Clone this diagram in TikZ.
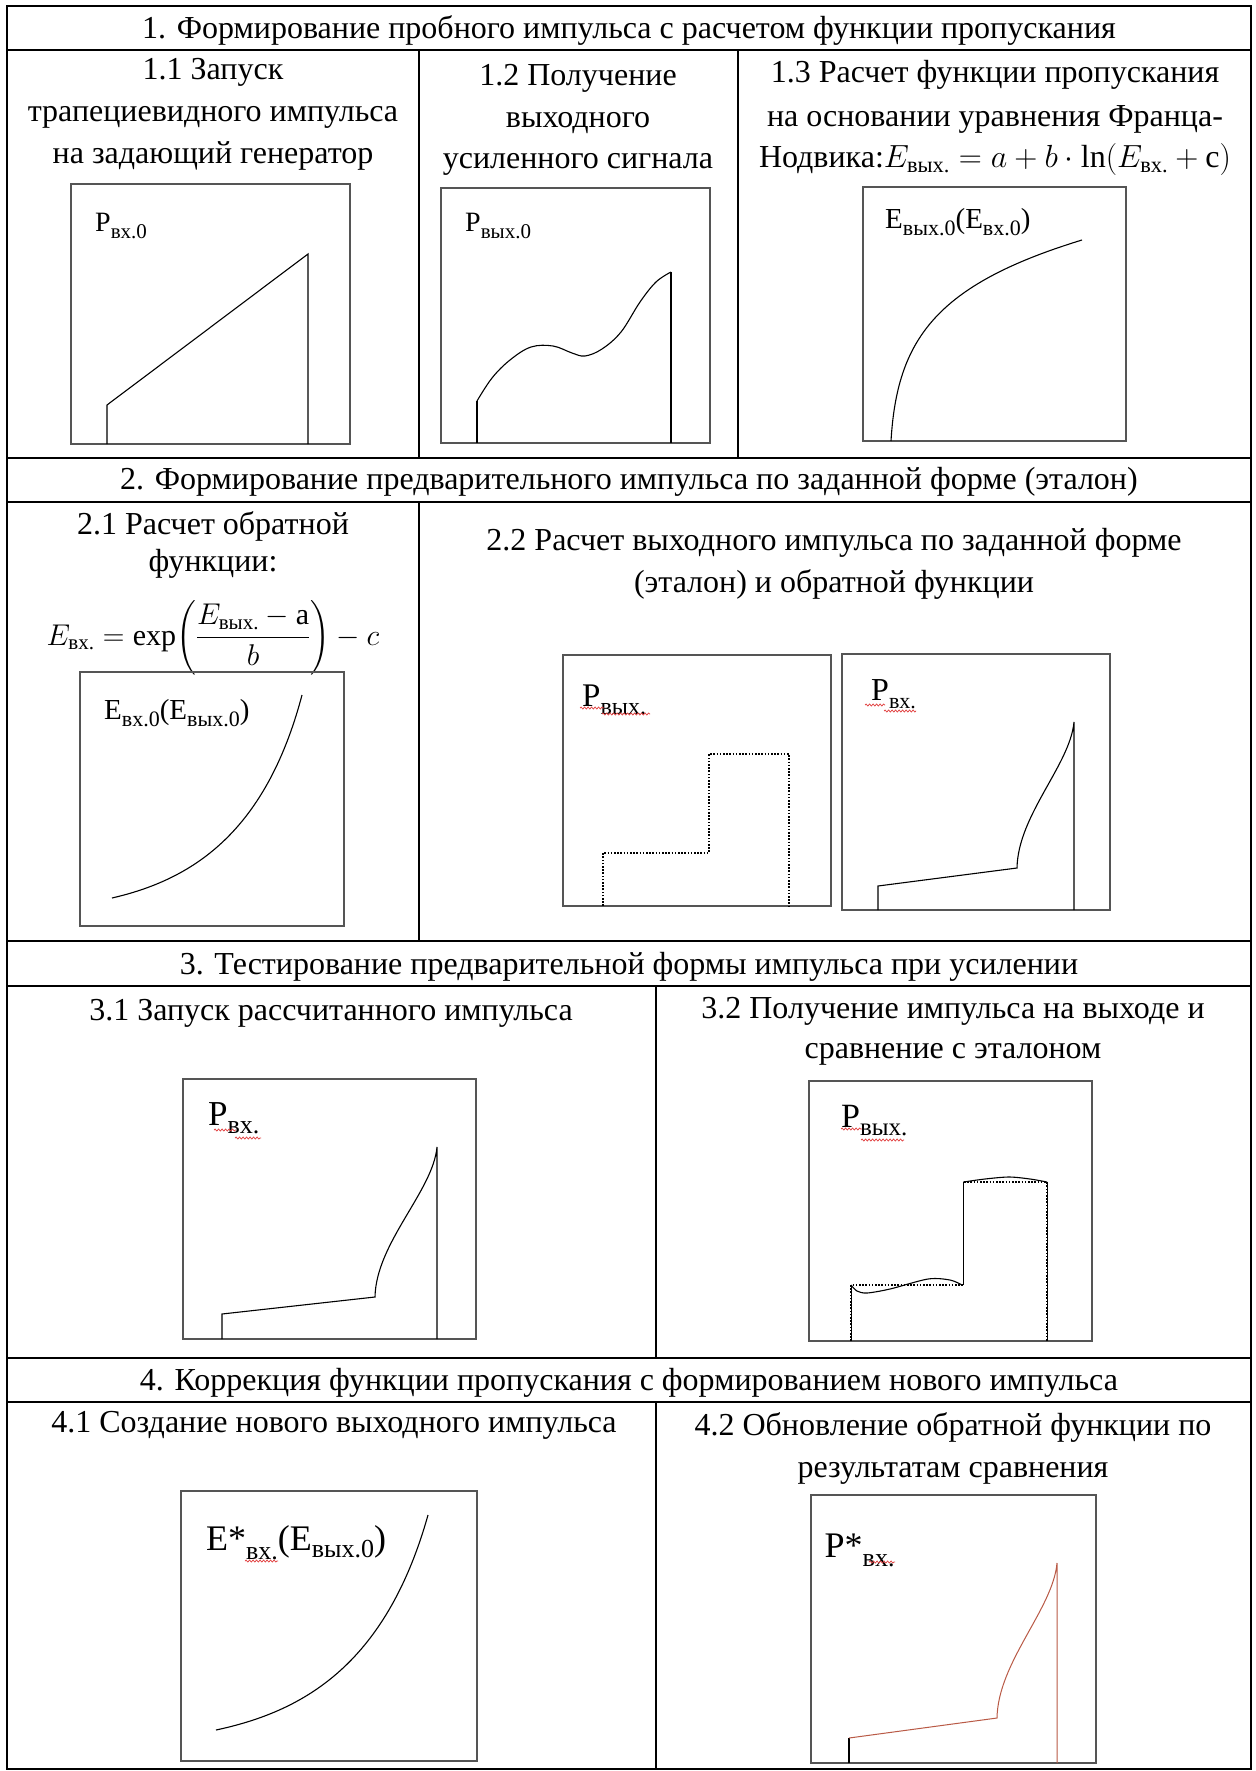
\RequirePackage{fix-cm}
\documentclass[tikz,border=0pt]{standalone}
\usepackage{amsmath}
\usepackage{fontspec}
\setmainfont{Liberation Serif}
\usetikzlibrary{decorations.pathmorphing}
\definecolor{brn}{RGB}{185,90,70}
\definecolor{frm}{RGB}{85,85,85}
\definecolor{wavred}{RGB}{225,60,60}
\newcommand{\sbx}[3]{\raisebox{-#1pt}{\fontsize{#2}{#2}\selectfont #3}}
\begin{document}
\begin{tikzpicture}[x=1pt,y=-1pt,
  tbl/.style={line width=1.9pt, black},
  frame/.style={draw=frm, line width=1.5pt},
  crv/.style={line width=1.1pt, black},
  crvb/.style={line width=1pt, brn},
  dots/.style={line width=1.4pt, black, dash pattern=on 1.6pt off 1.6pt},
  txt/.style={anchor=base, inner sep=0pt, font=\fontsize{32}{38}\selectfont},
  lbl/.style={anchor=base west, inner sep=0pt},
  wav/.style={wavred, line width=0.7pt, decorate, decoration={snake, amplitude=1pt, segment length=3.5pt}}]
\useasboundingbox (0,0) rectangle (1255,1771);
\fill[white] (0,0) rectangle (1255,1771);

% ---------- table ----------
\draw[tbl] (7,6) rectangle (1251,1769);
\draw[tbl] (7,50) -- (1251,50);
\draw[tbl] (7,458) -- (1251,458);
\draw[tbl] (7,502) -- (1251,502);
\draw[tbl] (7,941) -- (1251,941);
\draw[tbl] (7,986) -- (1251,986);
\draw[tbl] (7,1358) -- (1251,1358);
\draw[tbl] (7,1402) -- (1251,1402);
\draw[tbl] (419,50) -- (419,458);
\draw[tbl] (738,50) -- (738,458);
\draw[tbl] (419,502) -- (419,941);
\draw[tbl] (656,986) -- (656,1358);
\draw[tbl] (656,1402) -- (656,1769);

% ---------- headers ----------
\node[txt] (h1) at (629,38.5) {1. Формирование пробного импульса с расчетом функции пропускания};
\node[txt] (h2) at (629,489) {2. Формирование предварительного импульса по заданной форме (эталон)};
\node[txt] (h3) at (629,974) {3. Тестирование предварительной формы импульса при усилении};
\node[txt] (h4) at (629,1390) {4. Коррекция функции пропускания с формированием нового импульса};

% ---------- row 1 texts ----------
\node[txt] (t11a) at (213,80) {1.1 Запуск};
\node[txt] (t11b) at (213,122) {трапециевидного импульса};
\node[txt] (t11c) at (213,164) {на задающий генератор};
\node[txt] (t12a) at (578,86) {1.2 Получение};
\node[txt] (t12b) at (578,128) {выходного};
\node[txt] (t12c) at (578,169) {усиленного сигнала};
\node[txt] (t13a) at (995,83) {1.3 Расчет функции пропускания};
\node[txt] (t13b) at (995,127) {на основании уравнения Франца-};
\node[txt] (t13c) at (995,168) {Нодвика:$E_{\text{вых.}} = a + b\cdot\ln(E_{\text{вх.}} + \mathrm{c})$};

% ---------- row 2 texts ----------
\node[txt] (t21a) at (213,534) {2.1 Расчет обратной};
\node[txt] (t21b) at (213,571) {функции:};
\node[txt, font=\fontsize{30}{36}\selectfont] (t21c) at (213,645) {$E_{\text{вх.}} = \exp\biggl(\dfrac{E_{\text{вых.}} - \mathrm{a}}{b}\biggr) - c$};
\node[txt] (t22a) at (834,550) {2.2 Расчет выходного импульса по заданной форме};
\node[txt] (t22b) at (834,592) {(эталон) и обратной функции};

% ---------- row 3 texts ----------
\node[txt] (t31) at (331,1020) {3.1 Запуск рассчитанного импульса};
\node[txt] (t32a) at (953,1018) {3.2 Получение импульса на выходе и};
\node[txt] (t32b) at (953,1058) {сравнение с эталоном};

% ---------- row 4 texts ----------
\node[txt] (t41) at (334,1432) {4.1 Создание нового выходного импульса};
\node[txt] (t42a) at (953,1435) {4.2 Обновление обратной функции по};
\node[txt] (t42b) at (953,1477) {результатам сравнения};

% ---------- plot frames ----------
\draw[frame] (71,184) rectangle (350,444);
\draw[frame] (441,188) rectangle (710,443);
\draw[frame] (863,187) rectangle (1126,441);
\draw[frame] (80,672) rectangle (344,926);
\draw[frame] (563,655) rectangle (831,906);
\draw[frame] (842,654) rectangle (1110,910);
\draw[frame] (183,1079) rectangle (476,1339);
\draw[frame] (809,1081) rectangle (1092,1341);
\draw[frame] (181,1491) rectangle (477,1761);
\draw[frame] (811,1495) rectangle (1096,1763);

% ---------- curves ----------
% 1.1
\draw[crv] (107,444) -- (107,405) -- (308,254) -- (308,444);
% 1.2
\draw[crv] (477,443) -- (477,401);
\draw[crv] plot[smooth, tension=0.6] coordinates {(477,401) (492,378) (510,360) (531,347) (553,346) (572,353) (585,356) (602,349) (621,332) (640,302) (656,282) (671,272)};
\draw[crv] (671,272) -- (671,443);
% 1.3
\draw[crv] (891,441) .. controls (897,340) and (935,285) .. (1082,240);
% 2.1
\draw[crv] (112,898) .. controls (190,880) and (265,835) .. (302,695);
% 2.2a
\draw[dots] (603,906) -- (603,853) -- (709,853) -- (709,754) -- (789,754) -- (789,906);
% 2.2b
\draw[crv] (878,910) -- (878,886) -- (1017,868) .. controls (1018,815) and (1070,765) .. (1074,722) -- (1074,910);
% 3.1
\draw[crv] (222,1339) -- (222,1314) -- (375,1297) .. controls (376,1243) and (433,1191) .. (437,1147) -- (437,1339);
% 3.2
\draw[dots] (851,1341) -- (851,1285) -- (963.5,1285) -- (963.5,1182) -- (1047,1182) -- (1047,1341);
\draw[line width=0.6pt] (851,1341) -- (851,1285);
\draw[crv] plot[smooth] coordinates {(851,1285) (857,1291) (867,1293) (890,1289) (928,1279) (950,1280) (962,1285)};
\draw[line width=0.6pt] (963.5,1285) -- (963.5,1182);
\draw[crv] plot[smooth] coordinates {(963.5,1182) (985,1179) (1009,1177) (1030,1179) (1047,1182)};
\draw[line width=0.6pt] (1047,1182) -- (1047,1341);
% 4.1
\draw[crv] (216,1730) .. controls (300,1712) and (385,1668) .. (428,1515);
% 4.2
\draw[crv] (849,1763) -- (849,1738);
\draw[crvb] (849,1738) -- (997,1718) .. controls (998,1662) and (1053,1609) .. (1057,1563) -- (1057,1763);

% ---------- plot labels ----------
\node[lbl, font=\fontsize{28}{28}\selectfont] (l11) at (95,232) {P\sbx{7}{21}{вх.0}};
\node[lbl, font=\fontsize{28}{28}\selectfont] (l12) at (465,232) {P\sbx{7}{21}{вых.0}};
\node[lbl, font=\fontsize{29}{29}\selectfont] (l13) at (885,229) {E\sbx{7}{22}{вых.0}(E\sbx{7}{22}{вх.0})};
\node[lbl, font=\fontsize{29}{29}\selectfont] (l21) at (104,719) {E\sbx{7}{22}{вх.0}(E\sbx{7}{22}{вых.0})};
\node[lbl, font=\fontsize{33}{33}\selectfont] (l22a) at (582,706) {P\sbx{8}{24}{вых.}};
\node[lbl, font=\fontsize{32}{32}\selectfont] (l22b) at (871,700) {P\sbx{8}{22}{вх.}};
\node[lbl, font=\fontsize{35}{35}\selectfont] (l31) at (208,1125) {P\sbx{8}{26}{вх.}};
\node[lbl, font=\fontsize{34}{34}\selectfont] (l32) at (841,1127) {P\sbx{8}{25}{вых.}};
\node[lbl, font=\fontsize{36}{36}\selectfont] (l41) at (206,1550) {E*\sbx{9}{26}{вх.}(E\sbx{7}{26}{вых.0})};
\node[lbl, font=\fontsize{36}{36}\selectfont] (l42) at (824.5,1557) {P*\sbx{9}{26}{вх.}};

% ---------- spell-check waves ----------
\draw[wav] (580,708) -- (604,708);
\draw[wav] (602,714) -- (650,714);
\draw[wav] (865,705) -- (885,705);
\draw[wav] (884,711) -- (916,711);
\draw[wav] (214,1130) -- (236,1130);
\draw[wav] (235,1138) -- (261,1138);
\draw[wav] (841,1129) -- (862,1129);
\draw[wav] (861,1140) -- (904,1140);
\draw[wav] (245,1561) -- (278,1561);
\draw[wav] (869,1562) -- (895,1562);
\end{tikzpicture}
\end{document}
